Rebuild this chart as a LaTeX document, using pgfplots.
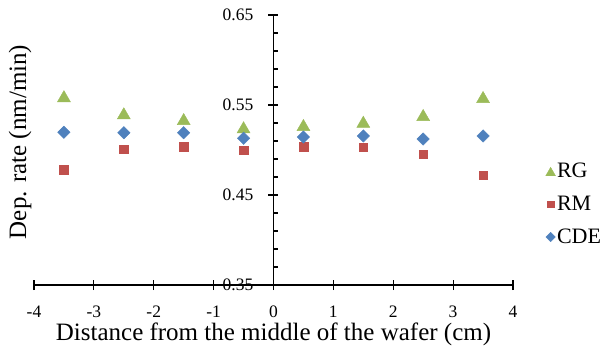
\documentclass[border=0pt]{standalone}
\usepackage{pgfplots}
\pgfplotsset{compat=1.18}
\usepackage{fontspec}
\setmainfont{Liberation Serif}
\usetikzlibrary{calc}

\definecolor{rgGreen}{RGB}{155,187,89}
\definecolor{rmRed}{RGB}{192,80,77}
\definecolor{cdeBlue}{RGB}{79,129,189}

% deposition rate across the wafer for three process variants
\pgfplotstableread{
x     RG     RM     CDE
-3.5  0.5598 0.4778 0.5197
-2.5  0.5408 0.5011 0.5192
-1.5  0.5344 0.5037 0.5192
-0.5  0.5253 0.5000 0.5130
0.5   0.5278 0.5037 0.5144
1.5   0.5314 0.5030 0.5156
2.5   0.5389 0.4952 0.5122
3.5   0.5589 0.4722 0.5156
}\deprate

\begin{document}
\begin{tikzpicture}
\begin{axis}[
  name=ax,
  scale only axis,
  width=479pt, height=270pt,
  xmin=-4, xmax=4, ymin=0.35, ymax=0.65,
  axis x line=bottom, axis y line=center,
  axis line style={line width=1.3pt, -},
  xtick={-4,-3,...,4},
  ytick={0.35,0.45,0.55,0.65},
  minor y tick num=4,
  tick align=center,
  major tick length=10pt,
  minor tick length=5pt,
  minor y tick style={xshift=2.5pt},
  tick style={black, line width=1.1pt},
  hide obscured x ticks=false, hide obscured y ticks=false,
  /pgf/number format/assume math mode=true,
  ticklabel style={font=\fontsize{17.5}{20}\selectfont, inner sep=2pt},
  xticklabel style={anchor=base},
  xticklabel shift=27pt,
  yticklabel style={/pgf/number format/.cd, fixed, fixed zerofill, precision=2},
  yticklabel shift=13pt,
  every axis y label/.style={at={(axis description cs:-0.029,0.53)}, rotate=90, anchor=center, font=\fontsize{25}{29}\selectfont},
  every axis x label/.style={at={(axis description cs:0.5,0)}, anchor=base, yshift=-55pt, inner sep=0pt, font=\fontsize{25}{29}\selectfont},
  xlabel={Distance from the middle of the wafer (cm)},
  ylabel={Dep. rate (nm/min)},
  legend style={at={(axis description cs:1.068,0.458)}, anchor=north west, draw=none, fill=none,
    font=\fontsize{22}{25}\selectfont, row sep=14pt, inner sep=0pt,
    nodes={inner sep=1.5pt}},
  legend cell align=left,
  legend image code/.code={\draw[#1, /tikz/every mark/.append style={scale=0.75}] plot coordinates {(0pt,0pt)};},
  clip=false,
]
\addplot[only marks, mark=triangle*, mark size=7.5pt, color=rgGreen, mark options={yshift=-1.9pt}]
  table[x=x, y=RG] {\deprate};
\addlegendentry{RG}
\addplot[only marks, mark=square*, mark size=4.3pt, color=rmRed]
  table[x=x, y=RM] {\deprate};
\addlegendentry{RM}
\addplot[only marks, mark=square*, mark size=4.4pt, color=cdeBlue, mark options={rotate=45}]
  table[x=x, y=CDE] {\deprate};
\addlegendentry{CDE}
\end{axis}
\pgfresetboundingbox
\path[use as bounding box] ($(ax.south west)+(-34pt,-61pt)$) rectangle ++(603pt,346pt);
\end{tikzpicture}
\end{document}
